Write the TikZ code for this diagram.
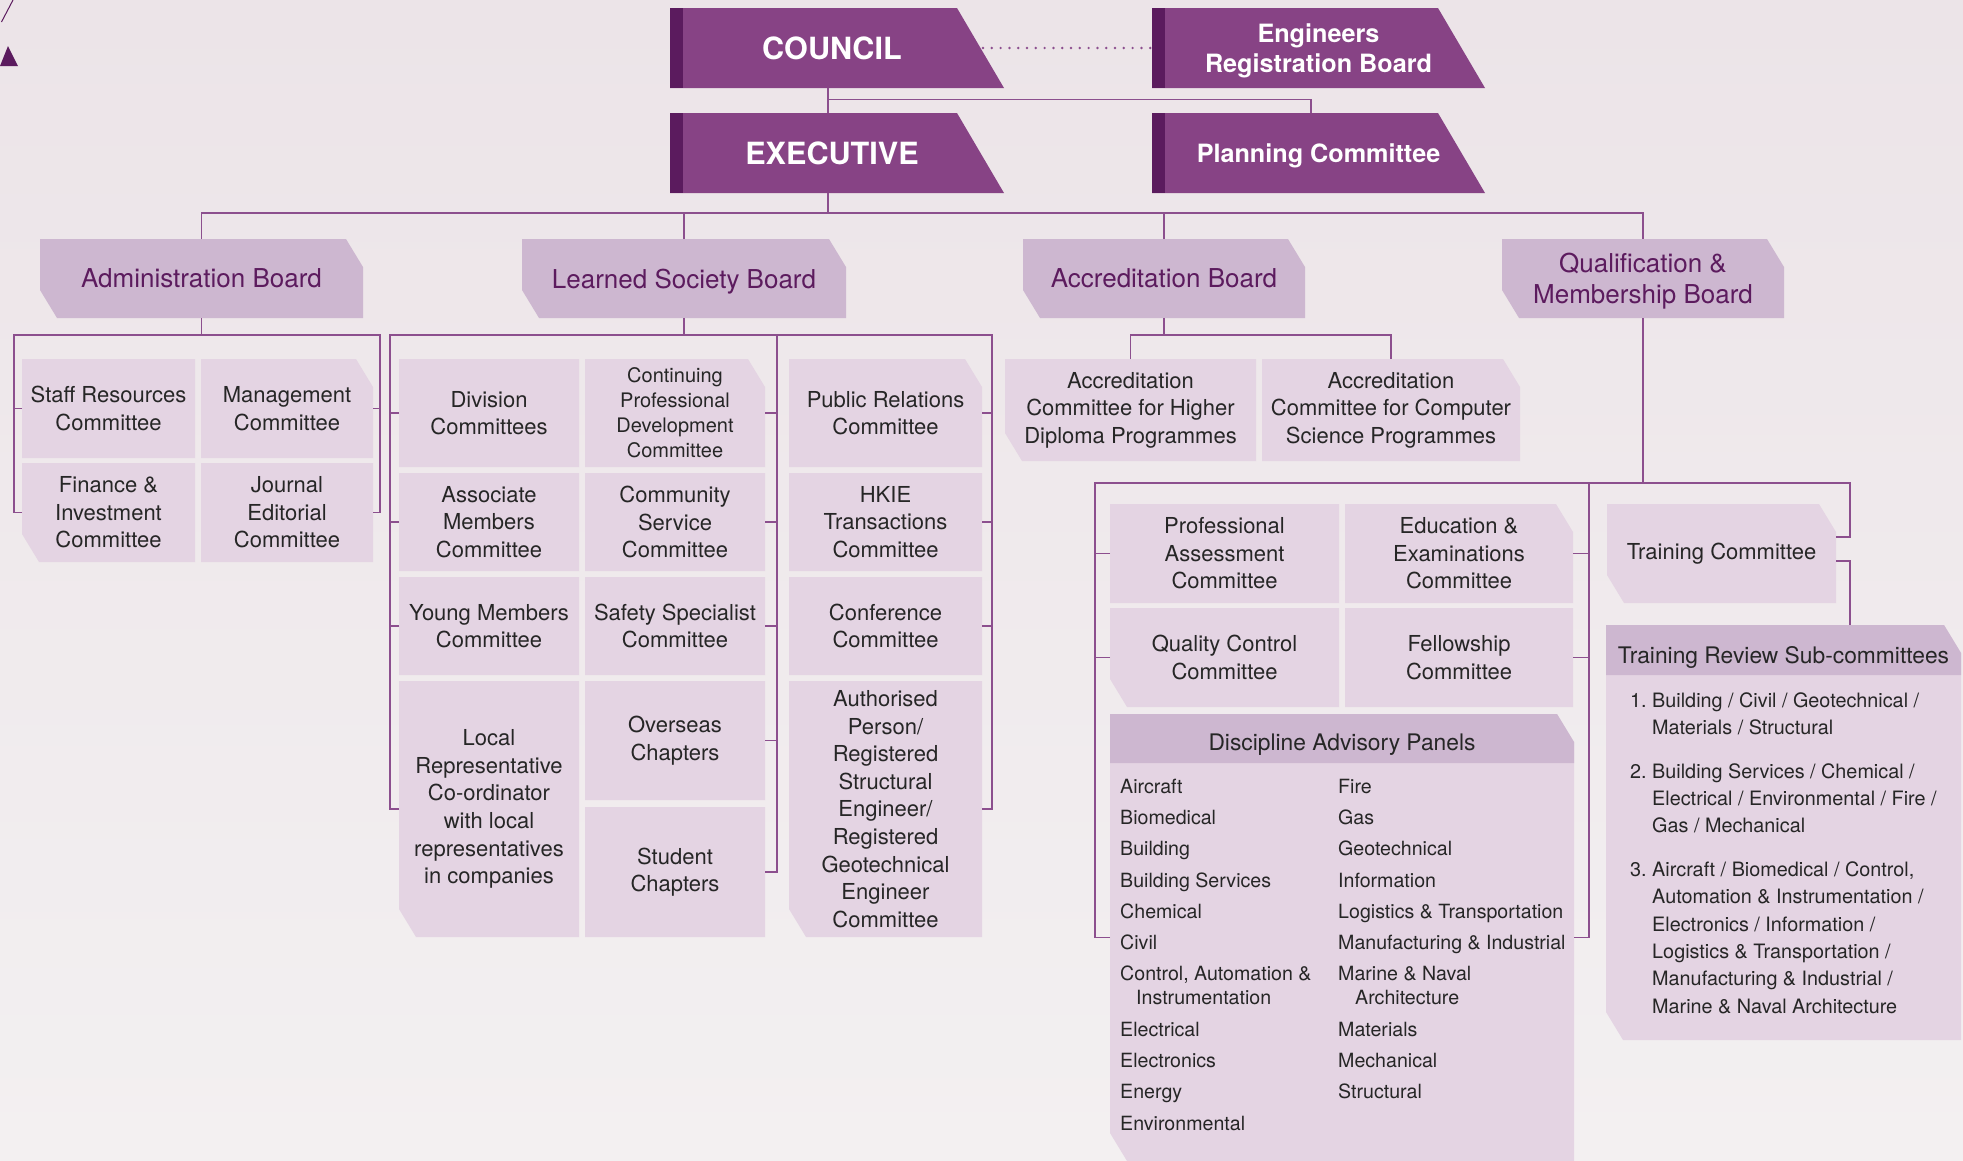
\documentclass[tikz,border=0pt]{standalone}
\usepackage{fontspec}
\setmainfont{TeX Gyre Heros}

\definecolor{darkbox}{HTML}{874385}
\definecolor{darkstrip}{HTML}{5B1B5E}
\definecolor{boardfill}{HTML}{CDB7D0}
\definecolor{litefill}{HTML}{E4D4E3}
\definecolor{linkcol}{HTML}{8C4F8E}
\definecolor{boardtxt}{HTML}{5C1B5E}
\definecolor{plaintxt}{HTML}{262626}
\definecolor{bgtop}{HTML}{ECE4E8}
\definecolor{bgbot}{HTML}{F3F0F1}

\tikzset{
  cbox/.style n args={3}{path picture={\fill[#1] (path picture bounding box.north west) -- ([xshift=-#2*17pt]path picture bounding box.north east) -- ([yshift=-#2*28pt]path picture bounding box.north east) -- (path picture bounding box.south east) -- ([xshift=#3*17pt]path picture bounding box.south west) -- ([yshift=#3*28pt]path picture bounding box.south west) -- cycle;}},
  wh/.style 2 args={minimum width=#1pt, minimum height=#2pt},
  topbox/.style={inner sep=0pt, outer sep=0pt, wh={334}{80}, text=white, align=center, text depth=0pt,
    path picture={\fill[darkbox] (path picture bounding box.north west) -- ([xshift=-47pt]path picture bounding box.north east) -- (path picture bounding box.south east) -- (path picture bounding box.south west) -- cycle;
      \fill[darkstrip] (path picture bounding box.north west) rectangle ([xshift=13pt]path picture bounding box.south west);}},
  board/.style={inner sep=0pt, outer sep=0pt, minimum height=79pt, text=boardtxt, align=center, text depth=0pt, font=\fontsize{26}{31}\selectfont, cbox={boardfill}{1}{1}},
  cttee/.style={inner sep=0pt, outer sep=0pt, text=plaintxt, align=center, font=\fontsize{22}{27.6}\selectfont, cbox={litefill}{0}{0}},
  ctteeNE/.style={cttee, cbox={litefill}{1}{0}},
  ctteeSW/.style={cttee, cbox={litefill}{0}{1}},
  ctteeNESW/.style={cttee, cbox={litefill}{1}{1}},
  panel/.style={inner sep=0pt, outer sep=0pt,
    path picture={\fill[litefill] (path picture bounding box.north west) -- ([xshift=-17pt]path picture bounding box.north east) -- ([yshift=-28pt]path picture bounding box.north east) -- (path picture bounding box.south east) -- ([xshift=17pt]path picture bounding box.south west) -- ([yshift=28pt]path picture bounding box.south west) -- cycle;
      \fill[boardfill] (path picture bounding box.north west) -- ([xshift=-17pt]path picture bounding box.north east) -- ([yshift=-28pt]path picture bounding box.north east) -- ([yshift=-#1]path picture bounding box.north east) -- ([yshift=-#1]path picture bounding box.north west) -- cycle;}},
  headtxt/.style={inner sep=0pt, text=plaintxt, text depth=0pt, font=\fontsize{22.8}{27}\selectfont},
  listtxt/.style={inner sep=0pt, anchor=north west, text=plaintxt},
  link/.style={draw=linkcol, line width=1.3pt},
  dotlink/.style={draw=linkcol, line width=2.7pt, line cap=round, dash pattern=on 0pt off 8.8pt}
}

\begin{document}
\begin{tikzpicture}[x=1pt, y=-1pt]
	\useasboundingbox (0,0) rectangle (1963,1160);
	\shade[top color=bgtop, bottom color=bgbot] (0,0) rectangle (1963,1160);
	\fill[darkstrip] (0,66) -- (8,46) -- (18,66) -- cycle; \draw[darkstrip, line width=1pt] (1.5,22) -- (13,0);

	\node[topbox, font=\bfseries\fontsize{30.6}{36}\selectfont] (council) at (837,48) {\kern-10pt COUNCIL};
	\node[topbox, wh={333}{80}, font=\bfseries\fontsize{25.2}{30}\selectfont] (erb) at (1318.5,48) {Engineers\\Registration Board};
	\node[topbox, font=\bfseries\fontsize{30.6}{36}\selectfont] (exec) at (837,153) {\kern-10pt EXECUTIVE};
	\node[topbox, wh={333}{80}, font=\bfseries\fontsize{25.2}{30}\selectfont] (plan) at (1318.5,153) {Planning Committee};

	\node[board, minimum width=323pt] (admin) at (201.5,278.5) {Administration Board};
	\node[board, minimum width=324pt] (lsb) at (684,278.5) {Learned Society Board};
	\node[board, minimum width=282pt] (ab) at (1164,278.5) {Accreditation Board};
	\node[board, minimum width=282pt] (qmb) at (1643,278.5) {Qualification \&\\Membership Board};

	\node[cttee, wh={173}{99}] (staff) at (108.5,408.5) {Staff Resources\\Committee};
	\node[ctteeNE, wh={172}{99}] (mgmt) at (287,408.5) {Management\\Committee};
	\node[ctteeSW, wh={173}{99}] (fin) at (108.5,512.5) {Finance \&\\Investment\\Committee};
	\node[cttee, wh={172}{99}] (jour) at (287,512.5) {Journal\\Editorial\\Committee};

	\node[cttee, wh={180}{108}] (div) at (489,413) {Division\\Committees};
	\node[ctteeNE, wh={180}{108}, font=\fontsize{20}{25}\selectfont] (cpd) at (675,413) {Continuing\\Professional\\Development\\Committee};
	\node[ctteeNE, wh={193}{108}] (pr) at (885.5,413) {Public Relations\\Committee};
	\node[cttee, wh={180}{98}] (assoc) at (489,522) {Associate\\Members\\Committee};
	\node[cttee, wh={180}{98}] (comm) at (675,522) {Community\\Service\\Committee};
	\node[cttee, wh={193}{98}] (hkie) at (885.5,522) {HKIE\\Transactions\\Committee};
	\node[cttee, wh={180}{98}] (young) at (489,626) {Young Members\\Committee};
	\node[cttee, wh={180}{98}] (safety) at (675,626) {Safety Specialist\\Committee};
	\node[cttee, wh={193}{98}] (conf) at (885.5,626) {Conference\\Committee};
	\node[ctteeSW, wh={180}{256}] (local) at (489,809) {Local\\Representative\\Co-ordinator\\with local\\representatives\\in companies};
	\node[cttee, wh={180}{119}] (overseas) at (675,740.5) {Overseas\\Chapters};
	\node[cttee, wh={180}{130}] (student) at (675,872) {Student\\Chapters};
	\node[ctteeSW, wh={193}{256}] (auth) at (885.5,809) {Authorised\\Person/\\Registered\\Structural\\Engineer/\\Registered\\Geotechnical\\Engineer\\Committee};

	\node[ctteeSW, wh={251}{102}] (hd) at (1130.5,410) {Accreditation\\Committee for Higher\\Diploma Programmes};
	\node[ctteeNE, wh={258}{102}] (cs) at (1391,410) {Accreditation\\Committee for Computer\\Science Programmes};

	\node[cttee, wh={229}{99}] (pa) at (1224.5,553.5) {Professional\\Assessment\\Committee};
	\node[ctteeNE, wh={228}{99}] (ee) at (1459,553.5) {Education \&\\Examinations\\Committee};
	\node[ctteeSW, wh={229}{99}] (qc) at (1224.5,657.5) {Quality Control\\Committee};
	\node[cttee, wh={228}{99}] (fel) at (1459,657.5) {Fellowship\\Committee};
	\node[ctteeNESW, wh={229}{99}] (tc) at (1721.5,553.5) {Training Committee};

	\node[panel=49pt, wh={464}{447}] (dap) at (1342,937.5) {};
	\node[headtxt] (daphead) at ([yshift=-28.3pt]dap.north) {Discipline Advisory Panels};
	\node[listtxt, font=\fontsize{19.6}{31.3}\selectfont] (daplist) at (1120,771) {\begin{tabular}{@{}p{218pt}@{}l@{}}
		Aircraft & Fire\\
		Biomedical & Gas\\
		Building & Geotechnical\\
		Building Services & Information\\
		Chemical & Logistics \& Transportation\\
		Civil & Manufacturing \& Industrial\\
		Control, Automation \& & Marine \& Naval\\[-7.3pt]
		\hspace*{16pt}Instrumentation & \hspace*{17pt}Architecture\\
		Electrical & Materials\\
		Electronics & Mechanical\\
		Energy & Structural\\
		Environmental &
	\end{tabular}};

	\node[panel=50pt, wh={355}{415}] (trs) at (1783.5,832.5) {};
	\node[headtxt] (trshead) at ([yshift=-29.7pt]trs.north) {Training Review Sub-committees};
	\node[listtxt, font=\fontsize{19.8}{27.4}\selectfont] (trslist) at (1630,688) {\begin{tabular}{@{}l@{\ }l@{}}
		1. & Building / Civil / Geotechnical /\\
		& Materials / Structural\\[16pt]
		2. & Building Services / Chemical /\\
		& Electrical / Environmental / Fire /\\
		& Gas / Mechanical\\[16pt]
		3. & Aircraft / Biomedical / Control,\\
		& Automation \& Instrumentation /\\
		& Electronics / Information /\\
		& Logistics \& Transportation /\\
		& Manufacturing \& Industrial /\\
		& Marine \& Naval Architecture
	\end{tabular}};

	\draw[link] ([xshift=-9pt]council.south) -- ([xshift=-9pt]exec.north);
	\draw[link] ([xshift=-9pt,yshift=-11.5pt]council.south) -| ([xshift=-7.5pt]plan.north);
	\draw[dotlink] ([xshift=-21pt]council.east) -- (erb.west);

	\coordinate (ebus) at ([xshift=-9pt,yshift=-20pt]exec.south);
	\draw[link] ([xshift=-9pt]exec.south) -- (ebus);
	\draw[link] (admin.north) |- (ebus) -| (qmb.north);
	\draw[link] (lsb.north) -- (lsb.north |- ebus);
	\draw[link] (ab.north) -- (ab.north |- ebus);

	\coordinate (adbus) at ([yshift=-17pt]admin.south);
	\draw[link] (admin.south) -- (adbus);
	\draw[link] (fin.west) -- ++(-8,0) |- (adbus) -| ([xshift=7pt]jour.east) -- (jour.east);
	\draw[link] (staff.west) -- ++(-8,0) (mgmt.east) -- ++(7,0);

	\coordinate (lsbus) at ([yshift=-17pt]lsb.south);
	\draw[link] (lsb.south) -- (lsbus);
	\draw[link] (local.west) -- ++(-9,0) |- (lsbus) -| ([xshift=10pt]auth.east) -- (auth.east);
	\draw[link] (student.east) -- ++(12,0) |- (lsbus);
	\draw[link] (div.west) -- ++(-9,0) (assoc.west) -- ++(-9,0) (young.west) -- ++(-9,0);
	\draw[link] (cpd.east) -- ++(12,0) (comm.east) -- ++(12,0) (safety.east) -- ++(12,0) (overseas.east) -- ++(12,0);
	\draw[link] (pr.east) -- ++(10,0) (hkie.east) -- ++(10,0) (conf.east) -- ++(10,0);

	\coordinate (abbus) at ([yshift=-17pt]ab.south);
	\draw[link] (ab.south) -- (abbus);
	\draw[link] (hd.north) |- (abbus) -| (cs.north);

	\coordinate (qmbus) at ([yshift=-165pt]qmb.south);
	\draw[link] (qmb.south) -- (qmbus);
	\draw[link] (dap.west) -- ++(-15,0) |- (qmbus) -| ([xshift=14pt,yshift=16.5pt]tc.east) -- ([yshift=16.5pt]tc.east);
	\draw[link] (pa.west) -- ++(-15,0) (qc.west) -- ++(-15,0);
	\draw[link] (dap.east) -- ++(15,0) |- (qmbus);
	\draw[link] (ee.east) -- ++(16,0) (fel.east) -- ++(16,0);
	\coordinate (tcout) at ([xshift=14pt,yshift=-7.5pt]tc.east);
	\draw[link] ([yshift=-7.5pt]tc.east) -- (tcout) -- (tcout |- trs.north);
\end{tikzpicture}
\end{document}
